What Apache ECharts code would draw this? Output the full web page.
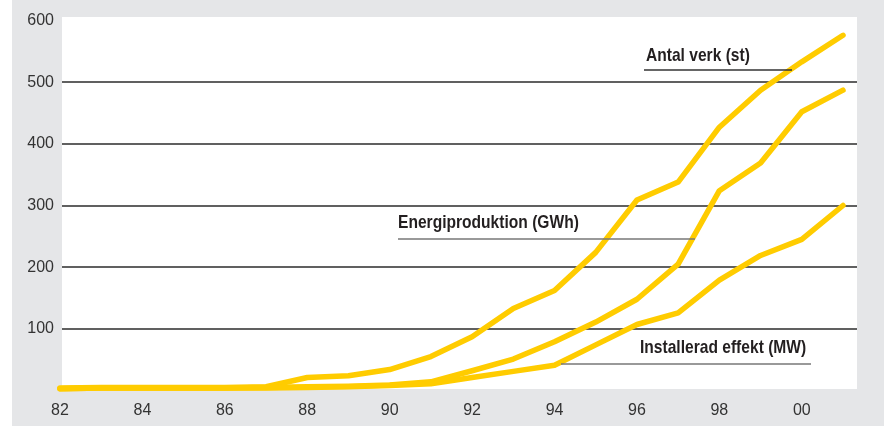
<!DOCTYPE html>
<html><head><meta charset="utf-8">
<script src="https://cdn.jsdelivr.net/npm/echarts@6/dist/echarts.min.js"></script>
<style>html,body{margin:0;padding:0;background:#fff}#c{width:884px;height:426px}</style>
</head><body><div id="c"></div>
<script>
const years = ['82','83','84','85','86','87','88','89','90','91','92','93','94','95','96','97','98','99','00','01'];
const antalVerk = [4,5,5,5,5,6,21,24,34,55,87,133,162,224,309,338,427,487,533,576];
const energi =    [3,4,4,4,4,5,6,7,9,14,32,51,79,111,148,205,324,369,452,487];
const effekt =    [3,4,4,4,4,4,5,6,8,11,21,31,41,74,107,126,179,219,245,300];
const yTicks = [0,100,200,300,400,500,600];
const labels = ['Antal verk (st)','Energiproduktion (GWh)','Installerad effekt (MW)'];

const chart = echarts.init(document.getElementById('c'), null, {renderer:'canvas'});
const lineColor = '#ffcc00';
const labFont = '"Liberation Sans", Arial, sans-serif';
function mkSeries(name, data){
  return {name, type:'line', data, xAxisIndex:0, yAxisIndex:0, symbol:'none', z:5,
    lineStyle:{color:lineColor, width:5.5, cap:'round', join:'round'}};
}
function lab(text, x, y){
  return {type:'text', z:20, x:x, y:y, scaleX:0.82, scaleY:1,
    style:{text:text, x:0, y:0, font:'bold 19px '+labFont, fill:'#231f20', textVerticalAlign:'top'}};
}
chart.setOption({
  backgroundColor:'#fff',
  animation:false,
  graphic:[
    {type:'rect', z:-10, shape:{x:12,y:0,width:872,height:426}, style:{fill:'#e5e6e8'}},
    {type:'rect', z:-9, shape:{x:62,y:17,width:795,height:372}, style:{fill:'#ffffff'}},
    lab(labels[0], 646, 46),
    {type:'line', z:20, shape:{x1:644,y1:70,x2:792,y2:70}, style:{stroke:'#333', lineWidth:1.5}},
    lab(labels[1], 398, 213),
    {type:'line', z:20, shape:{x1:398,y1:239,x2:695,y2:239}, style:{stroke:'#777', lineWidth:1.5}},
    lab(labels[2], 640, 338),
    {type:'line', z:20, shape:{x1:561,y1:364,x2:811,y2:364}, style:{stroke:'#777', lineWidth:1.5}}
  ],
  grid:[
    {left:60, right:41, top:20.5, bottom:35.5},
    {left:62, right:27, top:20.5, bottom:35.5}
  ],
  xAxis:[
    {type:'category', gridIndex:0, data:years, boundaryGap:false,
     axisLine:{show:false}, axisTick:{show:false}, splitLine:{show:false},
     axisLabel:{interval:1, margin:12, color:'#333', fontSize:16, fontFamily:'"Liberation Sans", Arial, sans-serif'}},
    {type:'category', gridIndex:1, data:years, show:false}
  ],
  yAxis:[
    {type:'value', gridIndex:0, min:0, max:600, interval:100,
     axisLine:{show:false}, axisTick:{show:false}, splitLine:{show:false},
     axisLabel:{margin:6, color:'#333', fontSize:16, fontFamily:'"Liberation Sans", Arial, sans-serif',
       formatter:v => (v === 0 ? '' : String(v))}},
    {type:'value', gridIndex:1, min:0, max:600, interval:100,
     axisLine:{show:false}, axisTick:{show:false}, axisLabel:{show:false},
     splitLine:{show:true, lineStyle:{color:['transparent','#2b2b2b','#2b2b2b','#2b2b2b','#2b2b2b','#2b2b2b','transparent'], width:1.5}}}
  ],
  series:[
    mkSeries(labels[0], antalVerk),
    mkSeries(labels[1], energi),
    mkSeries(labels[2], effekt)
  ]
});
</script></body></html>
